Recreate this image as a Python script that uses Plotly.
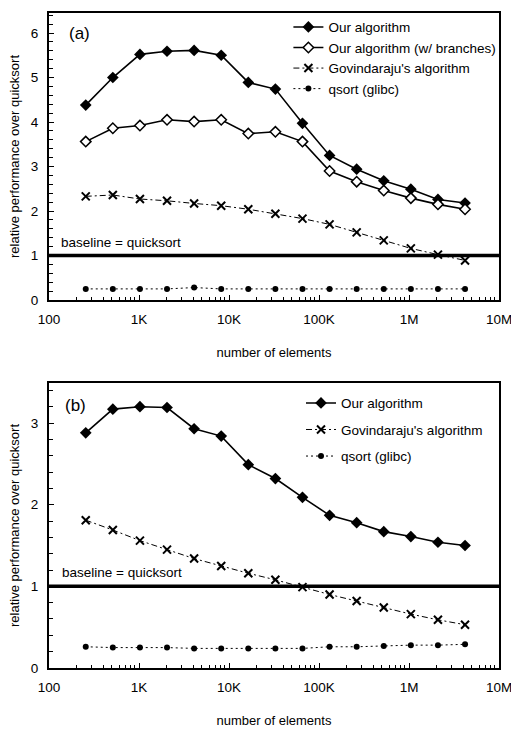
import plotly.graph_objects as go

# ---- data ----
n_elements = [256, 512, 1024, 2048, 4096, 8192, 16384, 32768, 65536, 131072,
              262144, 524288, 1048576, 2097152, 4194304]

a_ours = [4.38, 5.00, 5.52, 5.59, 5.61, 5.50, 4.89, 4.74, 3.97, 3.25, 2.94, 2.68, 2.49, 2.26, 2.18]
a_ours_branches = [3.56, 3.86, 3.92, 4.05, 4.01, 4.05, 3.74, 3.78, 3.56, 2.90, 2.66, 2.46, 2.29, 2.15, 2.04]
a_govindaraju = [2.33, 2.36, 2.27, 2.23, 2.17, 2.12, 2.04, 1.94, 1.83, 1.70, 1.52, 1.34, 1.16, 1.02, 0.89]
a_qsort = [0.25, 0.25, 0.25, 0.25, 0.28, 0.25, 0.25, 0.25, 0.25, 0.25, 0.25, 0.25, 0.25, 0.25, 0.25]

b_ours = [2.88, 3.17, 3.20, 3.19, 2.93, 2.84, 2.49, 2.32, 2.09, 1.87, 1.78, 1.67, 1.61, 1.54, 1.50]
b_govindaraju = [1.81, 1.69, 1.56, 1.45, 1.34, 1.25, 1.16, 1.08, 0.99, 0.90, 0.82, 0.74, 0.66, 0.59, 0.53]
b_qsort = [0.26, 0.25, 0.25, 0.25, 0.24, 0.24, 0.24, 0.24, 0.24, 0.26, 0.26, 0.27, 0.28, 0.28, 0.29]

x_tickvals = [100, 1000, 10000, 100000, 1000000, 10000000]
x_ticktext = ["100", "1K", "10K", "100K", "1M", "10M"]
x_minor = [m * 10 ** e for e in range(2, 7) for m in range(2, 10)]

FONT = "Liberation Sans, Arial, sans-serif"

fig = go.Figure()

solid = dict(color="black", width=1.6)
dashdot = dict(color="black", width=1, dash="6px,3px,2px,3px")
dotted = dict(color="black", width=1, dash="2px,3px")

def add(x, y, name, line, marker, xa, ya, legend):
    fig.add_trace(go.Scatter(x=x, y=y, name=name, mode="lines+markers",
                             line=line, marker=marker, legend=legend,
                             legendgroup=name + legend, xaxis=xa, yaxis=ya))

m_fdiamond = dict(symbol="diamond", size=9, color="black")
m_odiamond = dict(symbol="diamond", size=8, color="white", line=dict(color="black", width=1.5))
m_x = dict(symbol="x-thin-open", size=8, color="black", line=dict(color="black", width=2))
m_dot = dict(symbol="circle", size=6, color="black")

add(n_elements, a_ours, "Our algorithm", solid, m_fdiamond, "x", "y", "legend")
add(n_elements, a_ours_branches, "Our algorithm (w/ branches)", solid, m_odiamond, "x", "y", "legend")
add(n_elements, a_govindaraju, "Govindaraju's algorithm", dashdot, m_x, "x", "y", "legend")
add(n_elements, a_qsort, "qsort (glibc)", dotted, m_dot, "x", "y", "legend")

add(n_elements, b_ours, "Our algorithm", solid, m_fdiamond, "x2", "y2", "legend2")
add(n_elements, b_govindaraju, "Govindaraju's algorithm", dashdot, m_x, "x2", "y2", "legend2")
add(n_elements, b_qsort, "qsort (glibc)", dotted, m_dot, "x2", "y2", "legend2")

def xaxis_style(anchor):
    return dict(
        anchor=anchor, domain=[0, 1], automargin=False, ticklabeloverflow="allow",
        type="log", range=[2, 7], tickmode="array", tickvals=x_tickvals, ticktext=x_ticktext,
        ticks="inside", ticklen=5, tickwidth=1, tickcolor="black", ticklabelstandoff=6,
        minor=dict(tickmode="array", tickvals=x_minor, ticks="inside", ticklen=3,
                   tickcolor="black", tickwidth=1, showgrid=False),
        showline=True, linecolor="black", linewidth=2, mirror=True, showgrid=False,
        zeroline=False, tickfont=dict(size=13.5, color="black", family=FONT),
        title=dict(text="number of elements", font=dict(size=13, color="black", family=FONT), standoff=22),
    )

def yaxis_style(anchor, domain, rng):
    return dict(
        anchor=anchor, domain=domain, range=rng, automargin=False, ticklabeloverflow="allow",
        tickmode="linear", tick0=0, dtick=1, ticks="inside", ticklen=5, tickcolor="black",
        ticklabelstandoff=6,
        minor=dict(dtick=0.2, ticks="inside", ticklen=4, tickcolor="black", showgrid=False),
        showline=True, linecolor="black", linewidth=2, mirror=True, showgrid=False,
        zeroline=False, tickfont=dict(size=13.5, color="black", family=FONT),
        title=dict(text="relative performance over quicksort",
                   font=dict(size=13, color="black", family=FONT), standoff=8),
    )

# baseline lines
for xr, yr in (("x domain", "y"), ("x2 domain", "y2")):
    fig.add_shape(type="line", xref=xr, yref=yr, x0=0, x1=1, y0=1, y1=1,
                  line=dict(color="black", width=3.5))

ann_font = dict(size=13.5, color="black", family=FONT)
fig.add_annotation(text="baseline = quicksort", xref="x domain", yref="y", x=0.022, y=1.08,
                   xanchor="left", yanchor="bottom", showarrow=False, font=ann_font)
fig.add_annotation(text="baseline = quicksort", xref="x2 domain", yref="y2", x=0.024, y=1.05,
                   xanchor="left", yanchor="bottom", showarrow=False, font=ann_font)
fig.add_annotation(text="(a)", xref="x domain", yref="y domain", x=0.04, y=0.93,
                   xanchor="left", yanchor="middle", showarrow=False,
                   font=dict(size=17, color="black", family=FONT))
fig.add_annotation(text="(b)", xref="x2 domain", yref="y2 domain", x=0.03, y=0.92,
                   xanchor="left", yanchor="middle", showarrow=False,
                   font=dict(size=17, color="black", family=FONT))

leg_font = dict(size=13.5, color="black", family=FONT)
fig.update_layout(
    width=511, height=729,
    margin=dict(l=49, r=12, t=13, b=61, autoexpand=False),
    paper_bgcolor="white", plot_bgcolor="white",
    showlegend=True,
    xaxis=xaxis_style("y"),
    yaxis=yaxis_style("x", [0.5618, 1.0], [0, 6.45]),
    xaxis2=xaxis_style("y2"),
    yaxis2=yaxis_style("x2", [0.0, 0.4351], [0, 3.49]),
    legend=dict(x=0.532, y=1.002, xanchor="left", yanchor="top", font=leg_font,
                bgcolor="rgba(0,0,0,0)", tracegroupgap=0, itemwidth=30),
    legend2=dict(x=0.56, y=0.428, xanchor="left", yanchor="top", font=leg_font,
                 bgcolor="rgba(0,0,0,0)", tracegroupgap=6, itemwidth=30),
)

# remove the browser's default 8px body margin so the figure sits at the page origin
fig.write_html("out.html", config={"displayModeBar": False},
               post_script="document.body.style.margin='0';document.body.style.overflow='hidden';")
